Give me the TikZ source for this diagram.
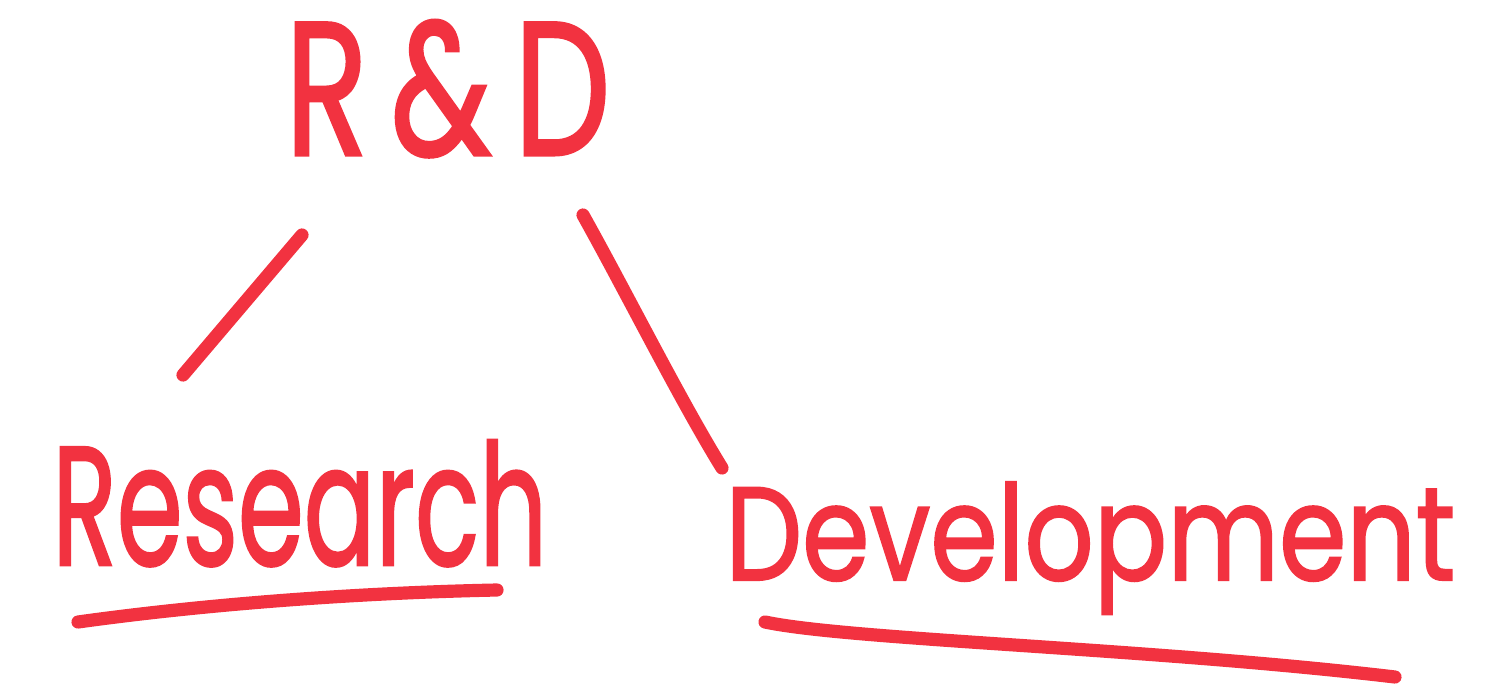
\documentclass[tikz,border=0pt]{standalone}
\usepackage{fontspec}
\newfontfamily\hand[FakeBold=1.6]{Poppins}
\usepackage{graphicx}
\definecolor{ink}{RGB}{242,50,64}
\begin{document}
\begin{tikzpicture}[x=0.02cm,y=-0.02cm,
  stroke/.style={draw=ink,line width=7.5pt,line cap=round,line join=round},
  word/.style={text=ink,inner sep=0pt,anchor=base west,font=\hand}]
\useasboundingbox (0,0) rectangle (1511,693);
\node[word] (rd) at (285,155) {\resizebox{6.5cm}{2.7cm}{R\,\&\,D}};
\node[word] (res) at (52,565) {\resizebox{9.9cm}{2.5cm}{Research}};
\node[word] (dev) at (725,580) {\resizebox{14.6cm}{1.96cm}{Development}};
% connector ends
\coordinate (l1) at (302,235);
\coordinate (l2) at (183,375);
\coordinate (r1) at (583,215);
\coordinate (r2) at (722,468);
\coordinate (u1) at (78,622);
\coordinate (u2) at (497,590);
\coordinate (v1) at (765,622);
\coordinate (v2) at (1395,677);
\draw[stroke] (l1) -- (l2);
\draw[stroke] (r1) .. controls (625,290) and (680,400) .. (r2);
\draw[stroke] (u1) .. controls (200,605) and (350,593) .. (u2);
\draw[stroke] (v1) .. controls (850,640) and (1150,648) .. (v2);
\end{tikzpicture}
\end{document}
